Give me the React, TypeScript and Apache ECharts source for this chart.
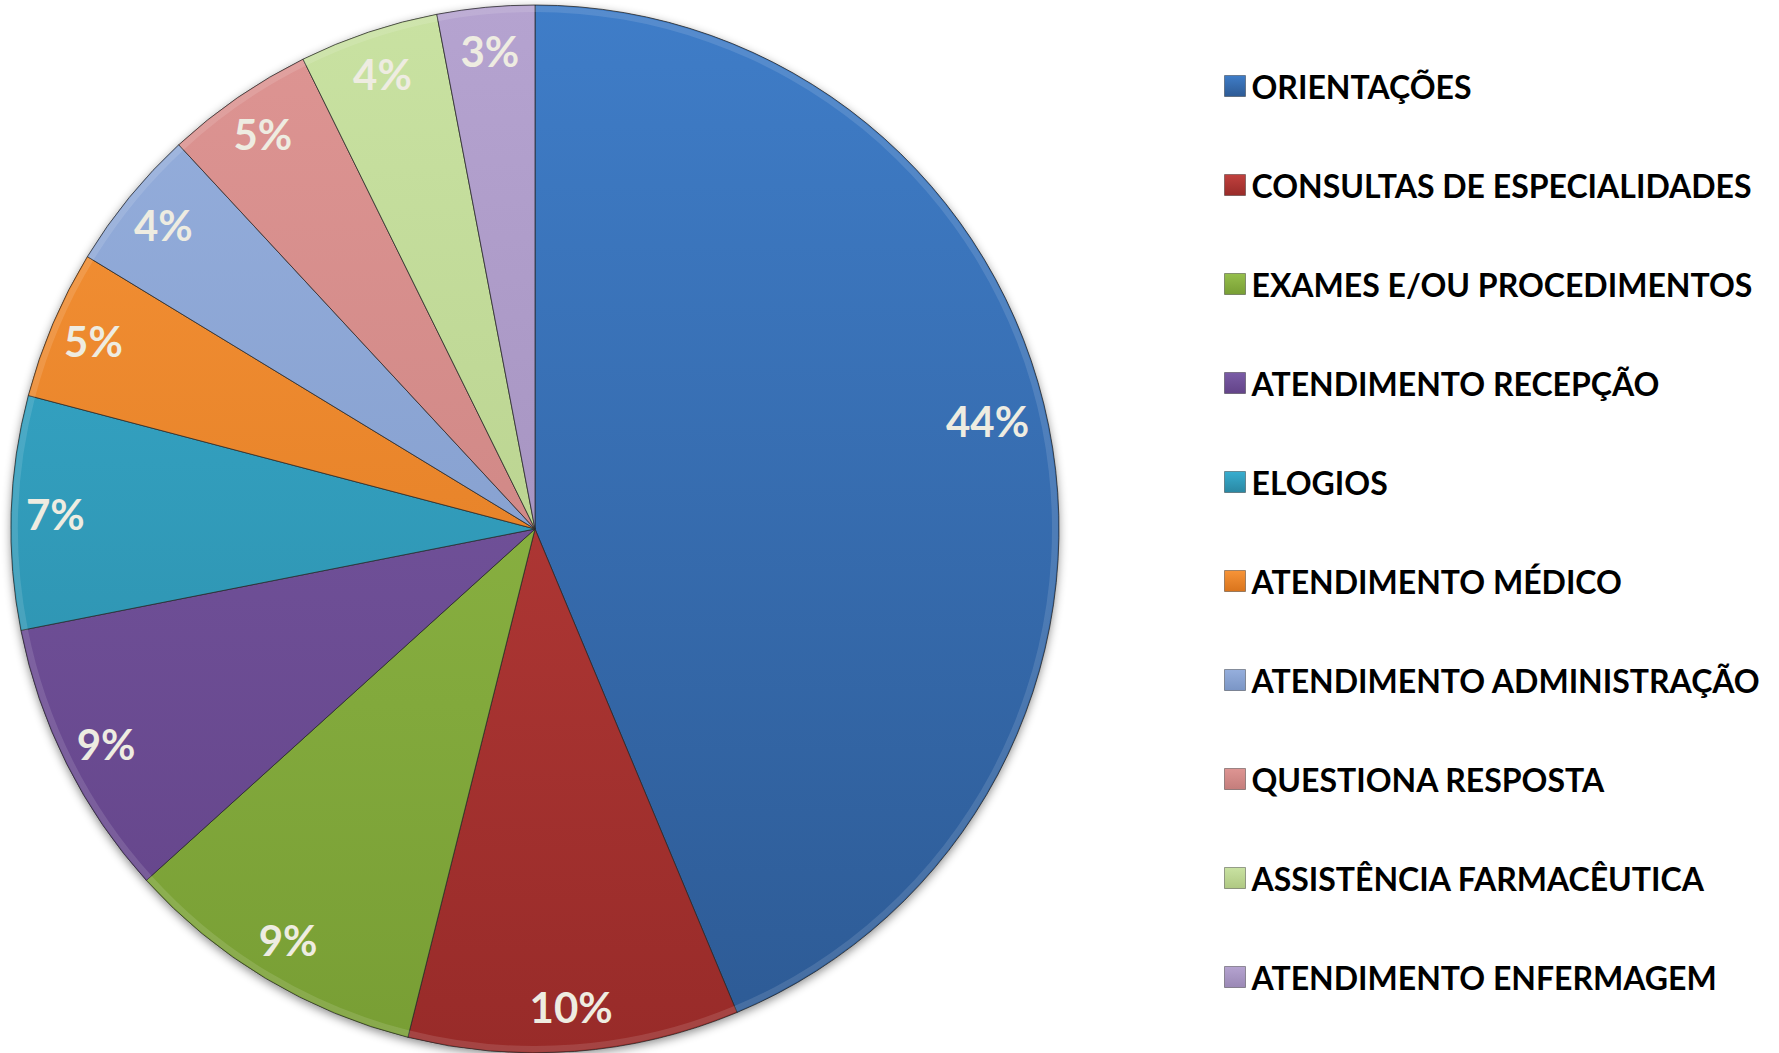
import React, { useEffect, useRef } from "react";
import * as echarts from "echarts";

const categories = [
  "ORIENTAÇÕES",
  "CONSULTAS DE ESPECIALIDADES",
  "EXAMES E/OU PROCEDIMENTOS",
  "ATENDIMENTO RECEPÇÃO",
  "ELOGIOS",
  "ATENDIMENTO MÉDICO",
  "ATENDIMENTO ADMINISTRAÇÃO",
  "QUESTIONA RESPOSTA",
  "ASSISTÊNCIA FARMACÊUTICA",
  "ATENDIMENTO ENFERMAGEM",
];
const values = [43.7, 10.2, 9.4, 8.6, 7.2, 4.6, 4.4, 4.6, 4.3, 3.0];
const topColors = ["#3F7DC8", "#C1413E", "#96BF4C", "#7A5CA6", "#38AED0", "#F79438", "#96AFDD", "#DE9593", "#C9E2A2", "#B5A3D0"];
const bottomColors = ["#2D5A94", "#982B29", "#789E34", "#634388", "#2A87A2", "#D9741C", "#7A95C5", "#C47D7B", "#AFC882", "#9A88B5"];
const legendColors = ["#3A72B8", "#B33A37", "#8AB446", "#70529A", "#33A0C0", "#EE8A2E", "#8BA5D4", "#D68A88", "#BFD896", "#AA98C4"];

const CX = 535;
const CY = 529;
const R = 524;

export default function App() {
  const ref = useRef<HTMLDivElement>(null);
  useEffect(() => {
    if (!ref.current) return;
    const chart = echarts.init(ref.current, undefined, { renderer: "svg" });
    const grad = (i: number) =>
      new echarts.graphic.LinearGradient(
        0, CY - R, 0, CY + R,
        [
          { offset: 0, color: topColors[i] },
          { offset: 1, color: bottomColors[i] },
        ],
        true
      );
    const iconGrad = (i: number) =>
      new echarts.graphic.LinearGradient(0, 0, 0, 1, [
        { offset: 0, color: topColors[i] },
        { offset: 1, color: bottomColors[i] },
      ]);
    const pieData = categories.map((name, i) => ({
      name,
      value: values[i],
      itemStyle: { color: grad(i) },
    }));
    const labelData = categories.map((name, i) => ({ name, value: values[i] }));
    chart.setOption({
      animation: false,
      backgroundColor: "#ffffff",
      legend: {
        orient: "vertical",
        left: 1219,
        top: 65,
        itemWidth: 21,
        itemHeight: 21,
        itemGap: 67,
        icon: "rect",
        selectedMode: false,
        data: categories.map((name, i) => ({
          name,
          itemStyle: { color: iconGrad(i), borderColor: "rgba(0,0,0,0.35)", borderWidth: 1 },
        })),
        textStyle: {
          fontFamily: "Lato",
          fontWeight: "bold",
          fontSize: 32,
          lineHeight: 32,
          color: "#000000",
          padding: [0, 0, 0, 1],
        },
      },
      series: [
        {
          type: "pie",
          name: "shadow",
          silent: true,
          center: [CX, CY],
          radius: [0, R],
          label: { show: false },
          labelLine: { show: false },
          z: 1,
          data: [
            {
              name: "__base",
              value: 1,
              itemStyle: {
                color: "#888",
                shadowBlur: 10,
                shadowColor: "rgba(0,0,0,0.45)",
                shadowOffsetY: 3,
              },
            },
          ],
        },
        {
          type: "pie",
          name: "main",
          center: [CX, CY],
          radius: [0, R],
          startAngle: 90,
          clockwise: true,
          z: 2,
          label: { show: false },
          labelLine: { show: false },
          itemStyle: { borderColor: "rgba(40,40,40,0.75)", borderWidth: 1 },
          emphasis: { disabled: true },
          data: pieData,
        },
        {
          type: "pie",
          name: "bevel",
          silent: true,
          center: [CX, CY],
          radius: [R - 7, R - 1],
          startAngle: 90,
          clockwise: true,
          z: 2,
          label: { show: false },
          labelLine: { show: false },
          itemStyle: { color: "rgba(255,255,255,0.12)", borderWidth: 0 },
          emphasis: { disabled: true },
          data: labelData,
        },
        {
          type: "pie",
          name: "labels",
          silent: true,
          center: [CX, CY],
          radius: [R * 0.82, R],
          startAngle: 90,
          clockwise: true,
          z: 3,
          itemStyle: { color: "rgba(0,0,0,0)", borderWidth: 0 },
          emphasis: { disabled: true },
          labelLine: { show: false },
          labelLayout: (p: any) => (p.dataIndex === 0 ? { dx: -18, dy: -14 } : {}),
          label: {
            show: true,
            position: "inside",
            rotate: 0,
            fontFamily: "Lato",
            fontWeight: "bold",
            fontSize: 42,
            color: "#EEECE1",
            formatter: (p: any) => Math.round(p.value) + "%",
          },
          data: labelData,
        },
      ],
    });
    return () => chart.dispose();
  }, []);
  return (
    <div
      ref={ref}
      style={{ position: "fixed", left: 0, top: 0, width: 1779, height: 1053, background: "#fff" }}
    />
  );
}
